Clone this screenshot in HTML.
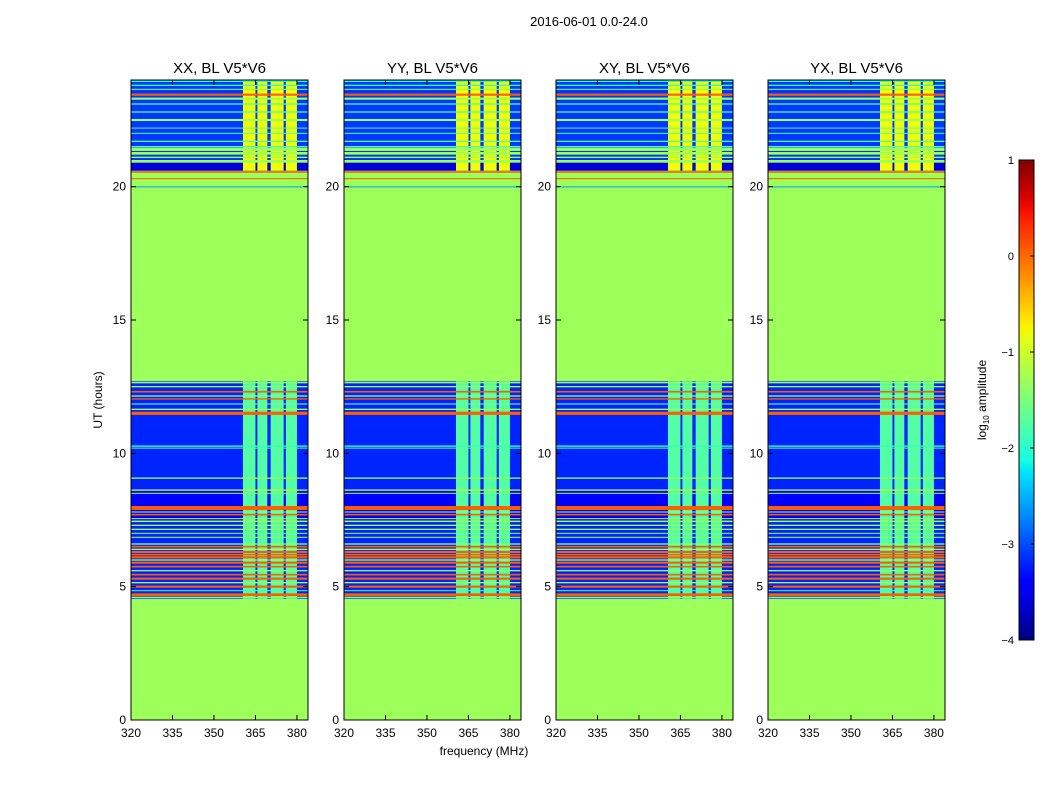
<!DOCTYPE html>
<html><head><meta charset="utf-8"><style>
body{margin:0;background:#fff;font-family:"Liberation Sans",sans-serif}
svg text{font-family:"Liberation Sans",sans-serif;fill:#000}
</style></head><body>
<svg id="c" width="1050" height="800" xmlns="http://www.w3.org/2000/svg"></svg>
<script>
const panelTitles=["XX, BL V5*V6","YY, BL V5*V6","XY, BL V5*V6","YX, BL V5*V6"];
const panelLeft=[131,344,556,768];
const xTicks=[320,335,350,365,380];
const yTicks=[0,5,10,15,20];
const cbTicks=[1,0,-1,-2,-3,-4];
const flaggedBlocks=[[0,4.55,-1.3],[12.7,20.6,-1.3]];
const observedBlocks=[[4.55,12.7,-3.2],[20.6,24,-3.1]];
const darkBlocks=[[7.4,8.6,-3.45],[20.6,20.9,-3.6]];
const rfiColumns=[[360.5,365],[365.7,369.3],[370.5,375.2],[376,380]];
const columnValueUpper=-0.8;
const columnValueLower=-1.75;
const lineHours=[12.65,12.5,12.31,12.15,12.04,11.85,11.65,11.5,10.27,10.2,9.07,8.62,8.5,7.95,7.8,7.7,7.55,7.45,7.3,7.15,7.0,6.85,6.6,6.5,6.4,6.3,6.2,6.1,6.0,5.9,5.75,5.6,5.45,5.3,5.15,5.0,4.85,4.7,4.6,
20.55,20.3,20.0,20.95,21.1,21.25,21.4,21.5,21.7,22.0,22.2,22.5,22.8,23.1,23.3,23.45,23.65,23.8,23.95];
const lineWidths=[0.05,0.05,0.06,0.05,0.05,0.04,0.05,0.12,0.05,0.03,0.05,0.05,0.04,0.15,0.04,0.06,0.04,0.06,0.05,0.05,0.04,0.04,0.05,0.06,0.05,0.08,0.06,0.08,0.05,0.08,0.06,0.05,0.06,0.08,0.05,0.08,0.04,0.1,0.05,
0.06,0.04,0.02,0.1,0.05,0.1,0.12,0.05,0.05,0.04,0.03,0.08,0.05,0.05,0.08,0.08,0.04,0.05,0.05];
const lineValues=[-1.3,-1.3,0.05,-1.3,0.05,-1.5,-1.3,0.05,-1.9,-1.7,-1.3,-1.1,-1.5,0.05,-1.3,0.05,-1.3,-1.3,-1.3,-1.3,-1.5,-1.3,-1.3,0.05,-1.3,0.05,0.05,0.05,-1.3,0.05,0.05,-1.3,0.05,0.05,-1.3,0.05,-1.9,0.05,-1.3,
0.05,0.05,-2.6,-1.3,-1.3,-1.3,-1.3,-1.8,-1.8,-1.8,-1.8,-1.3,-1.8,-1.8,-1.3,0.05,-1.5,-2.0,-2.0];

const NS="http://www.w3.org/2000/svg";
const svg=document.getElementById('c');
function mk(tag,attrs,parent){const e=document.createElementNS(NS,tag);for(const k in attrs)e.setAttribute(k,attrs[k]);(parent||svg).appendChild(e);return e;}
const JR=[[0,0],[0.35,0],[0.66,1],[0.89,1],[1,0.5]];
const JG=[[0,0],[0.125,0],[0.375,1],[0.64,1],[0.91,0],[1,0]];
const JB=[[0,0.5],[0.11,1],[0.34,1],[0.65,0],[1,0]];
function seg(s,t){for(let i=1;i<s.length;i++){if(t<=s[i][0]){const a=s[i-1],b=s[i];return a[1]+(b[1]-a[1])*(t-a[0])/(b[0]-a[0]);}}return s[s.length-1][1];}
function jet(v){let t=(v+4)/5;t=Math.max(0,Math.min(1,t));
 return `rgb(${Math.round(seg(JR,t)*255)},${Math.round(seg(JG,t)*255)},${Math.round(seg(JB,t)*255)})`;}
const W=177,pTop=80,pBot=720;
function yS(h){return pBot-(h/24)*(pBot-pTop);}
function xS(L,f){return L+(f-320)/64*W;}

let t=mk('text',{x:589,y:26,'text-anchor':'middle','font-size':13});t.textContent="2016-06-01 0.0-24.0";


panelLeft.forEach((L,pi)=>{
 const g=mk('g',{});
 
 
 const rect=(x0,x1,h0,h1,v,name)=>{const r=mk('rect',{x:x0,y:yS(h1),width:x1-x0,height:Math.max(1,yS(h0)-yS(h1)),fill:jet(v)},g);
  };
 flaggedBlocks.forEach(b=>rect(L,L+W,b[0],b[1],b[2],'flagged-block'));
 observedBlocks.forEach(b=>rect(L,L+W,b[0],b[1],b[2],'observed-block'));
 darkBlocks.forEach(b=>rect(L,L+W,b[0],b[1],b[2],'dark-block'));
 rfiColumns.forEach(c=>{
  rect(xS(L,c[0]),xS(L,c[1]),observedBlocks[0][0],observedBlocks[0][1],columnValueLower,'rfi-column');
  rect(xS(L,c[0]),xS(L,c[1]),observedBlocks[1][0],observedBlocks[1][1],columnValueUpper,'rfi-column');
 });
 lineHours.forEach((h,i)=>rect(L,L+W,h-lineWidths[i]/2,h+lineWidths[i]/2,lineValues[i],'rfi-line'));
 const fr=mk('rect',{x:L,y:pTop,width:W,height:pBot-pTop,fill:'none',stroke:'#000','stroke-width':1},g);
 
 const tt=mk('text',{x:L+W/2,y:73,'text-anchor':'middle','font-size':15},g);tt.textContent=panelTitles[pi];
 
 xTicks.forEach(v=>{const x=xS(L,v);
  mk('line',{x1:x,x2:x,y1:pBot,y2:pBot-5,stroke:'#000'},g);mk('line',{x1:x,x2:x,y1:pTop,y2:pTop+5,stroke:'#000'},g);
  const l=mk('text',{x:x,y:pBot+17,'text-anchor':'middle','font-size':12},g);l.textContent=v;
  });
 yTicks.forEach(v=>{const y=yS(v);
  mk('line',{x1:L,x2:L+5,y1:y,y2:y,stroke:'#000'},g);mk('line',{x1:L+W,x2:L+W-5,y1:y,y2:y,stroke:'#000'},g);
  const l=mk('text',{x:L-5,y:y+4,'text-anchor':'end','font-size':12},g);l.textContent=v;
  });
});
t=mk('text',{x:484,y:755,'text-anchor':'middle','font-size':12});t.textContent="frequency (MHz)";

t=mk('text',{x:102,y:400,'text-anchor':'middle','font-size':12,transform:'rotate(-90 102 400)'});t.textContent="UT (hours)";


const cbX=1019,cbW=15,cbT=160,cbB=640;
const defs=mk('defs',{});const gr=mk('linearGradient',{id:'jg',x1:0,y1:1,x2:0,y2:0},defs);
for(let i=0;i<=40;i++){mk('stop',{offset:i/40,'stop-color':jet(-4+5*i/40)},gr);}
const cb=mk('rect',{x:cbX,y:cbT,width:cbW,height:cbB-cbT,fill:'url(#jg)',stroke:'#000'});

const cbY=v=>cbB-(v+4)/5*(cbB-cbT);
cbTicks.forEach(v=>{const y=cbY(v);
 mk('line',{x1:cbX+cbW,x2:cbX+cbW-4,y1:y,y2:y,stroke:'#000'});
 const l=mk('text',{x:cbX-5,y:y+4,'text-anchor':'end','font-size':11});l.textContent=v<0?'\u2212'+(-v):v;
 });
t=mk('text',{x:986,y:400,'text-anchor':'middle','font-size':12,transform:'rotate(-90 986 400)'});
t.innerHTML='log<tspan font-size="8" dy="3">10</tspan><tspan dy="-3"> amplitude</tspan>';

</script>
</body></html>
